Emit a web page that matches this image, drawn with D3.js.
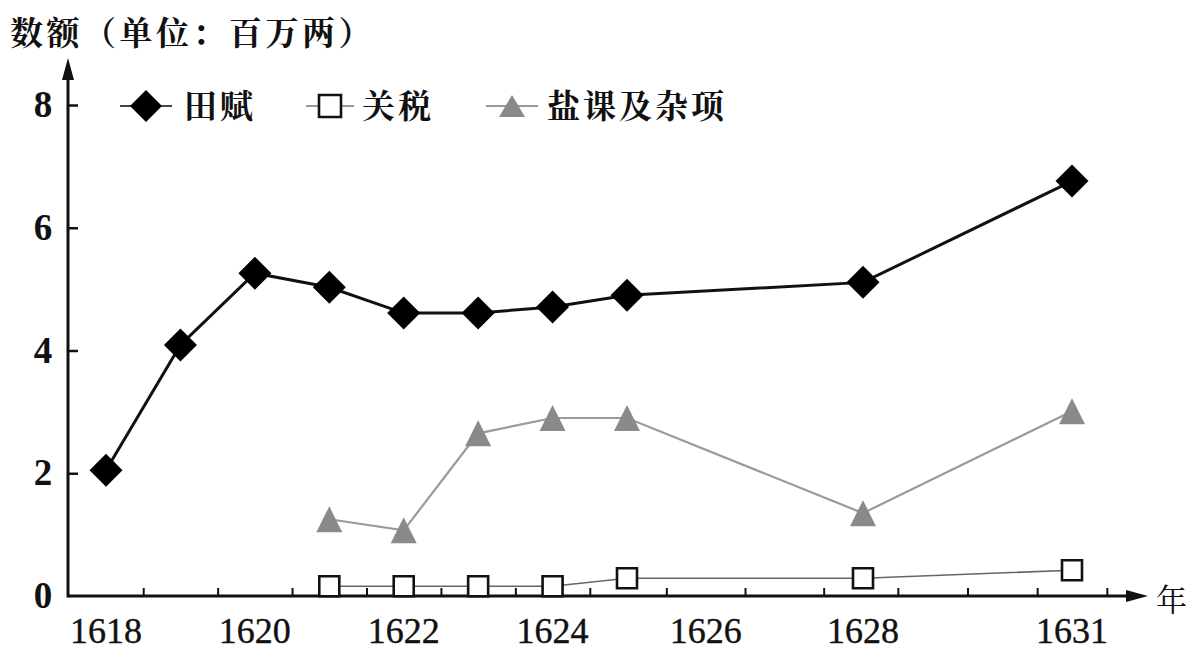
<!DOCTYPE html>
<html>
<head>
<meta charset="utf-8">
<script src="https://cdn.jsdelivr.net/npm/d3@7"></script>
</head>
<body style="margin:0">
<svg id="chart" width="1189" height="651"></svg>
<script>
// ---- data ----
const years = [1618, 1619, 1620, 1621, 1622, 1623, 1624, 1625, 1628, 1631];
const tianfu = [2.05, 4.09, 5.26, 5.03, 4.61, 4.61, 4.71, 4.90, 5.11, 6.76];
const otherYears = [1621, 1622, 1623, 1624, 1625, 1628, 1631];
const guanshui = [0.16, 0.16, 0.16, 0.16, 0.29, 0.29, 0.42];
const yanke = [1.25, 1.07, 2.65, 2.90, 2.90, 1.35, 3.01];
const xLabels = [1618, 1620, 1622, 1624, 1626, 1628, 1631];
const xMinorTicks = [1618.5, 1619.5, 1620.5, 1621.5, 1622.5, 1623.5, 1624.5, 1625.5, 1626.5, 1627.5, 1628.5, 1629.5, 1630.5, 1631.5];
const yTicks = [2, 4, 6, 8];
const seriesNames = ["田赋", "关税", "盐课及杂项"];
const yTitle = "数额（单位：百万两）";
const xTitle = "年";

const svg = d3.select("#chart");
const numFont = d => `"Liberation Serif"`;
const cjkFont = d => `"Noto Serif CJK SC"`;

const x = d3.scaleLinear().domain([1618, 1625, 1628, 1631]).range([106, 627, 863, 1072]);
const y = d3.scaleLinear().domain([0, 8]).range([596, 105]);
const x0 = 68, xEnd = 1148, yTop = 58;

// axes lines with arrows
svg.append("line").attr("x1", x0).attr("y1", y(0)).attr("x2", xEnd - 14).attr("y2", y(0))
  .attr("stroke", "#111").attr("stroke-width", 3);
svg.append("path").attr("d", `M${xEnd},${y(0)} L${xEnd - 22},${y(0) - 6} L${xEnd - 22},${y(0) + 6} Z`).attr("fill", "#111");
svg.append("line").attr("x1", x0).attr("y1", y(0) + 1.5).attr("x2", x0).attr("y2", yTop + 14)
  .attr("stroke", "#111").attr("stroke-width", 3);
svg.append("path").attr("d", `M${x0},${yTop} L${x0 - 6},${yTop + 22} L${x0 + 6},${yTop + 22} Z`).attr("fill", "#111");

// y ticks via axis
const yAxis = svg.append("g").attr("transform", `translate(${x0},0)`)
  .call(d3.axisRight(y).tickValues(yTicks).tickSize(10).tickFormat(""));
yAxis.select(".domain").remove();
yAxis.selectAll(".tick line").attr("stroke", "#111").attr("stroke-width", 2.5);
// y labels
svg.selectAll(".ylab").data([0].concat(yTicks)).enter().append("text")
  .attr("x", 43).attr("y", d => y(d)).attr("dy", "0.33em")
  .attr("text-anchor", "middle")
  .style("font-family", numFont).style("font-size", "37px").style("font-weight", "bold")
  .attr("fill", "#111")
  .text(d => d);

// x minor ticks (upward)
const xAxis = svg.append("g").attr("transform", `translate(0,${y(0)})`)
  .call(d3.axisTop(x).tickValues(xMinorTicks).tickSize(8).tickFormat(""));
xAxis.select(".domain").remove();
xAxis.selectAll(".tick line").attr("stroke", "#111").attr("stroke-width", 2);

// x labels
svg.selectAll(".xlab").data(xLabels).enter().append("text")
  .attr("x", d => x(d)).attr("y", 643)
  .attr("text-anchor", "middle")
  .style("font-family", numFont).style("font-size", "36px")
  .attr("fill", "#111").attr("stroke", "#111").attr("stroke-width", 0.4)
  .text(d => d);

// titles
svg.append("text").attr("x", 10).attr("y", 45)
  .style("font-family", cjkFont).style("font-size", "33px").style("font-weight", "bold")
  .attr("letter-spacing", 3.5)
  .attr("fill", "#111").text(yTitle);
svg.append("text").attr("x", 1156).attr("y", 611)
  .style("font-family", cjkFont).style("font-size", "31px")
  .attr("fill", "#111").text(xTitle);

// marker shapes
const diamondPath = (s) => `M0,${-s} L${s},0 L0,${s} L${-s},0 Z`;
const squarePath = (s) => `M${-s},${-s} H${s} V${s} H${-s} Z`;
const trianglePath = (w, h) => `M0,${-h / 2} L${w / 2},${h / 2} L${-w / 2},${h / 2} Z`;

const line = d3.line().x(d => x(d[0])).y(d => y(d[1]));

// 盐课及杂项
const yankeData = otherYears.map((yr, i) => [yr, yanke[i]]);
svg.append("path").attr("d", line(yankeData)).attr("fill", "none")
  .attr("stroke", "#9a9a9a").attr("stroke-width", 2.2);
svg.selectAll(".tri").data(yankeData).enter().append("path")
  .attr("transform", d => `translate(${x(d[0])},${y(d[1])})`)
  .attr("d", trianglePath(26, 26)).attr("fill", "#8a8a8a");

// 关税
const gsData = otherYears.map((yr, i) => [yr, guanshui[i]]);
svg.append("path").attr("d", line(gsData)).attr("fill", "none")
  .attr("stroke", "#666").attr("stroke-width", 1.6);
svg.selectAll(".sq").data(gsData).enter().append("path")
  .attr("transform", d => `translate(${x(d[0])},${y(d[1])})`)
  .attr("d", squarePath(10)).attr("fill", "#fff").attr("stroke", "#111").attr("stroke-width", 2.6);

// 田赋
const tfData = years.map((yr, i) => [yr, tianfu[i]]);
svg.append("path").attr("d", line(tfData)).attr("fill", "none")
  .attr("stroke", "#111").attr("stroke-width", 3);
svg.selectAll(".dia").data(tfData).enter().append("path")
  .attr("transform", d => `translate(${x(d[0])},${y(d[1])})`)
  .attr("d", diamondPath(16.5)).attr("fill", "#000");

// legend
const legY = 106;
const leg = [
  { name: seriesNames[0], lx1: 120, lx2: 172, mx: 146, tx: 184, kind: "d" },
  { name: seriesNames[1], lx1: 306, lx2: 354, mx: 330, tx: 362, kind: "s" },
  { name: seriesNames[2], lx1: 486, lx2: 538, mx: 512, tx: 547, kind: "t" }
];
leg.forEach(l => {
  svg.append("line").attr("x1", l.lx1).attr("x2", l.lx2).attr("y1", legY).attr("y2", legY)
    .attr("stroke", l.kind === "d" ? "#444" : "#999").attr("stroke-width", 2);
  const m = svg.append("path").attr("transform", `translate(${l.mx},${legY})`);
  if (l.kind === "d") m.attr("d", diamondPath(16)).attr("fill", "#000");
  if (l.kind === "s") m.attr("d", squarePath(11)).attr("fill", "#fff").attr("stroke", "#111").attr("stroke-width", 2.6);
  if (l.kind === "t") m.attr("d", trianglePath(26, 22)).attr("fill", "#8a8a8a");
  svg.append("text").attr("x", l.tx).attr("y", legY).attr("dy", "0.36em")
    .style("font-family", cjkFont).style("font-size", "33px").style("font-weight", "bold")
    .attr("letter-spacing", 3)
    .attr("fill", "#111").text(l.name);
});
</script>
</body>
</html>
